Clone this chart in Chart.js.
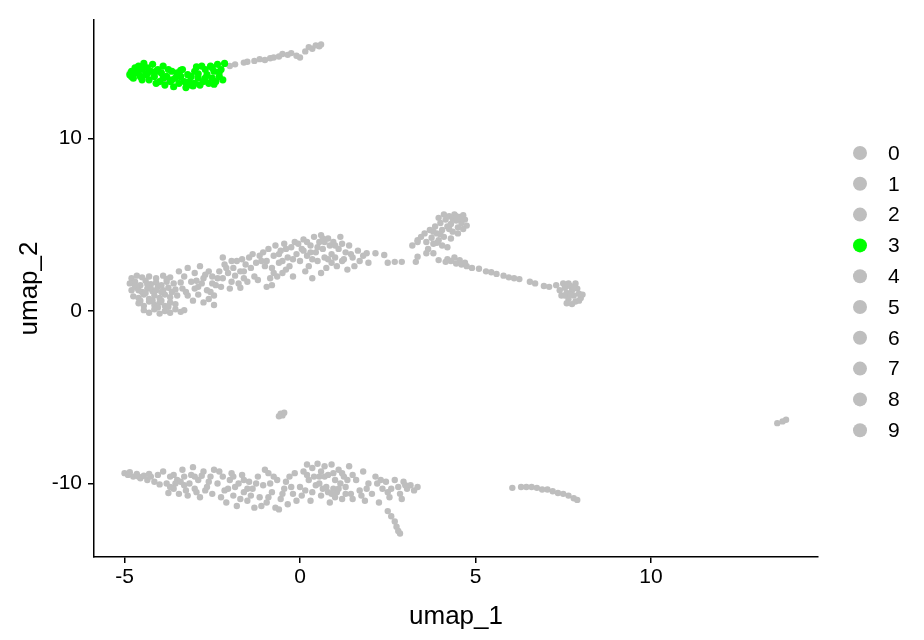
<!DOCTYPE html>
<html><head><meta charset="utf-8">
<script src="https://cdn.jsdelivr.net/npm/chart.js@4"></script>
<style>html,body{margin:0;padding:0;background:#fff}</style>
</head><body>
<canvas id="c" width="924" height="640"></canvas>
<script>
const clusterNames = ['0','1','2','3','4','5','6','7','8','9'];
const clusterColors = ['#BEBEBE','#BEBEBE','#BEBEBE','#00FF00','#BEBEBE','#BEBEBE','#BEBEBE','#BEBEBE','#BEBEBE','#BEBEBE'];
const xTicks = [-5, 0, 5, 10];
const yTicks = [-10, 0, 10];

// cluster 0: middle-left blob
const c0 = [[-4.8,1.9],[-4.65,2.05],[-4.5,1.95],[-4.3,2.0],[-4.1,1.9],[-3.9,2.05],[-3.7,1.95],
[-4.85,1.6],[-4.7,1.7],[-4.55,1.5],[-4.4,1.75],[-4.25,1.55],[-4.1,1.65],[-3.95,1.5],[-3.8,1.7],[-3.6,1.6],
[-4.8,1.2],[-4.65,1.35],[-4.5,1.1],[-4.35,1.3],[-4.2,1.15],[-4.05,1.4],[-3.9,1.2],[-3.75,1.35],[-3.55,1.25],
[-4.75,0.85],[-4.6,0.75],[-4.45,0.95],[-4.3,0.7],[-4.15,0.9],[-4.0,0.75],[-3.85,0.95],[-3.7,0.8],[-3.5,0.9],
[-4.6,0.45],[-4.45,0.3],[-4.3,0.55],[-4.15,0.35],[-4.0,0.5],[-3.85,0.3],[-3.7,0.5],[-3.55,0.4],
[-4.45,0.05],[-4.3,-0.1],[-4.15,0.1],[-4.0,-0.15],[-3.85,0.0],[-3.7,-0.1],[-3.55,0.1],[-3.4,-0.05],[-3.3,0.05],
[-4.7,1.45],[-4.4,1.05],[-4.2,0.6],[-3.95,1.1],[-3.65,1.1],[-4.55,0.6],[-4.05,0.2],[-3.75,0.25],[-4.35,1.55],[-3.8,1.85],
[-4.6,1.2],[-4.25,1.3],[-3.95,0.6],[-4.1,1.2]];
// cluster 1: bottom middle
const c1 = [[-2.35,-10.0],[-2.25,-10.8],[-2.2,-9.6],[-2.1,-11.1],[-2.05,-10.3],[-1.95,-9.4],[-1.9,-10.7],[-1.8,-11.3],[-1.75,-10.0],[-1.65,-9.5],[-1.6,-10.5],[-1.5,-11.0],[-1.45,-9.9],[-1.35,-10.3],[-1.3,-11.4],[-1.2,-9.6],[-1.15,-10.8],[-1.05,-10.1],[-0.95,-11.1],[-0.9,-9.4],[-0.8,-10.5],[-0.7,-11.4],[-0.65,-9.8],[-0.55,-10.9],[-0.45,-10.3],[-0.35,-11.2],[-0.3,-9.6],[-0.2,-10.6],[-0.1,-11.0],[0.0,-10.2],[-1.7,-10.9],[-2.0,-9.8],[-1.0,-9.2],[-0.6,-11.5],
[0.1,-9.3],[0.15,-10.4],[0.2,-8.9],[0.25,-9.8],[0.3,-11.0],[0.35,-9.1],[0.45,-10.1],[0.5,-8.85],[0.55,-9.6],[0.6,-10.7],[0.7,-9.0],[0.75,-10.2],[0.8,-9.5],[0.85,-11.1],[0.9,-8.9],[1.0,-9.8],[1.05,-10.5],[1.1,-9.2],[1.2,-10.9],[1.25,-9.6],[1.3,-10.2],[1.4,-9.0],[1.45,-10.6],[1.5,-9.5],[0.65,-10.3],[0.95,-10.3],[0.4,-9.6],[1.15,-10.0],[0.8,-10.5],[1.0,-10.8],[1.3,-10.6],[1.5,-10.9],[0.9,-10.6],
[-2.3,-9.3],[-1.85,-10.2],[-1.4,-10.7],[-0.85,-10.0],[-0.4,-9.9],[-0.15,-9.4],[0.05,-10.7],[0.55,-10.0],[0.7,-9.6],[1.1,-10.3],[1.35,-9.8],[0.35,-10.5],[-1.1,-11.3],[-2.15,-10.4],
[-1.6,-9.8],[-1.25,-10.0],[-0.75,-9.6],[-0.5,-10.6],[-0.25,-10.2],[0.2,-9.5],[0.6,-9.3],[0.95,-9.4],[1.2,-9.4],[-1.9,-9.6],[-1.5,-10.3],[-0.9,-10.8]];
// cluster 2: middle band
const c2 = [[-3.45,2.3],[-3.3,2.0],[-3.2,2.5],[-3.1,1.7],[-3.0,2.2],[-2.9,1.4],[-2.85,2.6],[-2.75,1.9],[-2.65,1.2],[-2.6,2.3],[-2.5,1.6],[-2.45,0.9],[-3.35,1.3],[-3.2,0.9],[-3.05,0.6],[-2.9,0.95],[-2.75,0.5],[-2.6,0.7],[-2.45,0.35],[-3.4,1.65],[-3.25,1.1],[-2.95,1.75],[-2.55,1.1],[-2.4,1.5],
[-2.3,2.3],[-2.2,1.9],[-2.15,2.7],[-2.05,2.2],[-1.95,1.7],[-1.9,2.5],[-1.8,2.9],[-1.7,2.3],[-1.6,1.9],[-1.55,2.7],[-1.45,3.1],[-1.4,2.5],[-1.3,2.0],[-1.25,2.8],[-1.15,3.2],[-2.25,1.4],[-2.0,1.3],[-1.75,1.6],[-1.85,2.05],[-1.65,3.0],[-2.2,3.1],[-1.7,1.35],[-1.5,1.7],[-0.95,1.4],[-0.8,1.5],
[-1.05,3.4],[-0.95,2.9],[-0.9,3.6],[-0.8,2.5],[-0.75,3.2],[-0.7,3.8],[-0.6,2.8],[-0.55,3.5],[-0.5,2.2],[-0.45,3.9],[-0.35,3.1],[-0.3,2.6],[-0.25,3.7],[-0.15,4.0],[-0.1,3.3],[0.0,2.9],[0.05,3.6],[0.1,4.15],[0.2,3.2],[0.25,2.6],[0.3,3.8],[0.4,4.3],[0.45,3.4],[0.5,2.9],[0.55,4.0],[0.6,4.4],[0.65,3.6],[0.7,3.1],[0.75,2.5],[0.8,4.2],[0.85,3.8],[0.9,3.3],[-0.65,2.0],[-0.4,2.4],[-0.2,2.0],[0.15,2.3],[0.35,1.9],[0.6,2.2],[-0.85,1.9],
[0.95,4.0],[1.0,3.1],[1.05,2.6],[1.1,3.6],[1.15,4.3],[1.2,2.9],[1.3,3.4],[1.35,2.4],[1.4,3.8],[1.5,3.1],[1.55,2.6],[1.65,3.5],[1.7,2.9],[1.8,3.2],
[-3.0,1.3],[-2.7,2.1],[-2.35,1.9],[-1.95,2.9],[-1.35,3.3],[-1.0,2.6],[-0.6,3.3],[-0.2,3.0],[0.1,3.5],[0.35,3.0],[0.5,3.7],[0.7,4.0],[0.9,2.8],[1.2,3.9],[1.45,3.3],[0.2,4.0],[-0.4,3.6],[-0.75,2.2],
[-2.8,1.6],[-2.5,2.0],[-2.1,2.5],[-1.6,2.3],[-1.1,2.9],[-0.5,2.9],[-0.05,3.9],[0.3,3.4],[0.65,4.2],[0.8,3.0],[1.0,3.8],[1.25,3.0],[-1.2,1.8]];
// cluster 3: green top cluster
const c3 = [[-4.85,13.7],[-4.8,13.9],[-4.75,13.5],[-4.7,14.1],[-4.65,13.8],[-4.6,14.2],[-4.55,13.6],[-4.5,14.0],[-4.45,14.35],[-4.4,13.7],[-4.35,14.1],[-4.3,13.4],[-4.25,13.9],[-4.2,14.3],[-4.15,13.6],[-4.1,13.2],[-4.05,14.0],[-4.0,13.3],[-3.95,13.8],[-3.9,14.2],[-3.85,13.1],[-3.8,13.6],[-3.75,14.0],[-3.7,13.3],[-3.65,13.9],[-3.6,13.0],[-3.55,13.5],[-3.5,13.8],[-3.45,13.2],[-3.4,13.6],[-3.35,14.0],[-3.3,13.3],[-3.25,12.95],[-3.2,13.7],[-3.15,13.3],[-3.1,13.6],[-3.05,13.05],
[-3.0,13.9],[-2.95,14.15],[-2.9,13.5],[-2.85,13.1],[-2.8,14.2],[-2.75,13.3],[-2.7,14.0],[-2.65,13.7],[-2.6,13.2],[-2.55,14.2],[-2.5,13.5],[-2.45,13.9],[-2.4,13.3],[-2.35,14.3],[-2.3,13.6],[-2.25,14.0],[-2.2,13.4],[-2.15,14.35],
[-4.8,13.6],[-4.6,13.95],[-4.35,13.75],[-4.1,13.9],[-3.9,13.5],[-3.65,13.4],[-3.4,13.95],[-3.2,13.1],[-2.9,13.75],[-2.7,13.5],[-2.5,14.1],[-2.3,13.85],[-2.45,13.15],[-4.5,13.4],[-3.0,13.2]];
// cluster 4: bottom right part and tail
const c4 = [[1.6,-9.8],[1.7,-10.4],[1.8,-9.3],[1.85,-11.0],[1.95,-10.0],[2.05,-10.6],[2.15,-9.6],[2.25,-11.1],[2.35,-10.3],[2.45,-9.9],[2.55,-10.8],[2.6,-10.3],[2.7,-9.8],[2.8,-10.2],[2.85,-10.6],[2.95,-9.9],[3.05,-10.3],[3.15,-10.1],[3.25,-10.4],[3.35,-10.2],[2.9,-10.9],
[2.5,-11.6],[2.6,-11.9],[2.7,-12.2],[2.75,-12.5],[2.8,-12.75],[2.85,-12.9],
[1.9,-10.3],[2.2,-10.0],[2.5,-10.5],[3.0,-10.1],[2.3,-9.8],[1.75,-10.7]];
// cluster 5: grey tail next to cluster 3
const c5 = [[-4.85,13.8],[-4.0,13.3],[-3.85,13.4],
[-2.0,14.2],[-1.85,14.3],[-1.6,14.4],[-1.5,14.45],[-1.3,14.5],[-1.15,14.6],[-1.0,14.55],[-0.85,14.65],[-0.75,14.7],[-0.6,14.75],[-0.5,14.9],[-0.35,14.85],[-0.25,14.95],[-0.1,14.8],[0.0,14.7],[0.15,15.05],[0.25,15.3],[0.35,15.2],[0.45,15.4],[0.55,15.35],[0.6,15.45]];
// cluster 6: hump
const c6 = [[1.9,3.35],[2.15,3.35],[2.4,3.25],[2.5,2.8],[2.7,2.85],[2.9,2.85],[1.95,2.8],[3.2,3.8],[3.35,4.0],[3.3,2.85],[3.35,3.15],[3.6,3.35],[3.8,3.35],[3.95,2.95],[4.15,2.85],
[3.35,4.1],[3.45,4.3],[3.55,4.5],[3.6,4.0],[3.7,4.7],[3.75,4.25],[3.8,3.9],[3.85,4.9],[3.9,4.5],[3.95,4.1],[4.0,5.1],[4.05,4.7],[4.1,4.3],[4.15,5.3],[4.2,4.9],[4.25,5.5],[4.3,5.05],[4.35,4.6],[4.4,5.6],[4.45,5.25],[4.5,4.85],[4.55,5.45],[4.6,5.1],[4.65,5.55],[4.7,5.3],[4.75,4.95],[4.5,4.5],[4.3,4.2],[4.05,3.8],[3.65,3.6],[4.1,5.6],[3.95,5.4],[4.2,3.7],[3.9,3.95],
[4.35,5.35],[4.6,5.35],[4.45,5.5],[4.25,4.75],[4.0,4.45],[3.8,4.6],[4.65,4.75]];
// cluster 7: bottom left
const c7 = [[-5.0,-9.4],[-4.9,-9.5],[-4.85,-9.35],[-4.75,-9.6],[-4.65,-9.45],[-4.55,-9.7],[-4.45,-9.55],[-4.35,-9.8],[-4.25,-9.6],[-4.15,-9.9],[-4.05,-9.5],[-4.0,-10.05],
[-3.9,-9.3],[-3.8,-10.0],[-3.7,-9.6],[-3.6,-10.3],[-3.5,-9.8],[-3.45,-10.6],[-3.35,-9.2],[-3.3,-10.1],[-3.2,-10.7],[-3.1,-9.5],[-3.05,-9.05],[-3.0,-10.3],[-2.9,-9.8],[-2.85,-10.8],[-2.75,-9.3],[-2.7,-10.4],[-2.6,-9.9],[-2.5,-10.6],[-2.45,-9.2],[-3.75,-10.55],[-3.4,-9.9],[-3.15,-10.0],[-2.8,-9.55],
[-4.6,-9.6],[-4.3,-9.45],[-3.55,-10.0],[-3.25,-10.4],[-2.95,-10.5],[-2.65,-10.2],[-3.6,-9.5],
[-3.7,-10.2],[-3.3,-9.6],[-3.0,-9.6],[-2.55,-9.6]];
// cluster 8: right tail of middle group
const c8 = [[4.3,2.9],[4.45,2.75],[4.6,2.7],[4.75,2.6],[4.9,2.5],[5.1,2.45],[5.3,2.3],[5.45,2.25],[5.6,2.15],[5.8,2.05],[5.95,1.95],[6.1,1.9],[6.25,1.85],[6.55,1.7],[6.7,1.6],[6.95,1.45],[7.1,1.4],[4.4,3.1],[4.55,2.95],[4.7,2.8],[4.2,3.0],
[7.3,1.5],[7.4,1.2],[7.45,0.9],[7.5,1.6],[7.55,1.35],[7.6,1.05],[7.65,0.7],[7.7,1.45],[7.75,1.2],[7.8,0.9],[7.85,0.55],[7.9,1.3],[7.95,1.0],[8.0,0.75],[7.6,0.45],[7.75,0.4],[7.85,1.6],[8.05,0.95],
[7.55,0.9],[7.7,0.95],[7.8,1.35],[7.65,1.6],[7.95,0.6]];
// cluster 9: small islands
const c9 = [[-0.6,-6.1],[-0.55,-5.95],[-0.5,-6.05],[-0.45,-5.9],
[6.05,-10.25],[6.3,-10.2],[6.45,-10.2],[6.6,-10.2],[6.75,-10.25],[6.9,-10.35],[7.05,-10.35],[7.2,-10.45],[7.35,-10.55],[7.5,-10.6],[7.65,-10.7],[7.8,-10.85],[7.9,-10.95],
[13.6,-6.5],[13.75,-6.4],[13.85,-6.3]];

const clusters = [c0,c1,c2,c3,c4,c5,c6,c7,c8,c9];

const datasets = clusters.map((pts, i) => ({
  label: clusterNames[i],
  data: pts.map(p => ({x: p[0], y: p[1]})),
  backgroundColor: clusterColors[i],
  borderColor: clusterColors[i],
  borderWidth: 0,
  pointRadius: i === 3 ? 3.6 : 3.2,
  pointHoverRadius: 3.2,
  order: i === 3 ? -1 : i
}));

const FONT = '"Liberation Sans", Arial, sans-serif';

const legendPlugin = {
  id: 'sideLegend',
  afterDraw(chart) {
    const ctx = chart.ctx;
    ctx.save();
    ctx.font = '21px ' + FONT;
    ctx.textBaseline = 'middle';
    ctx.textAlign = 'left';
    chart.data.datasets.forEach((ds, i) => {
      const y = 153 + i * 30.8;
      ctx.fillStyle = ds.backgroundColor;
      ctx.beginPath();
      ctx.arc(860, y, 7, 0, Math.PI * 2);
      ctx.fill();
      ctx.fillStyle = '#000';
      ctx.fillText(ds.label, 888, y + 1);
    });
    ctx.restore();
  }
};

new Chart(document.getElementById('c'), {
  type: 'scatter',
  data: { datasets },
  options: {
    responsive: false,
    animation: false,
    layout: { padding: { top: 20, right: 106, left: 0, bottom: 0 } },
    plugins: { legend: { display: false }, tooltip: { enabled: false } },
    scales: {
      x: {
        type: 'linear', min: -5.87, max: 14.76,
        afterBuildTicks: s => { s.ticks = xTicks.map(v => ({value: v})); },
        afterFit: s => { s.height = 83; },
        grid: { display: true, drawOnChartArea: false, drawTicks: true, tickLength: 6, color: '#000', lineWidth: 1.5 },
        border: { display: true, color: '#000', width: 1.5 },
        ticks: { color: '#000', font: { size: 21, family: FONT }, padding: 2, maxRotation: 0 },
        title: { display: true, text: 'umap_1', color: '#000', font: { size: 26, family: FONT }, padding: { top: 0, bottom: 8 } }
      },
      y: {
        type: 'linear', min: -14.26, max: 16.87,
        afterBuildTicks: s => { s.ticks = yTicks.map(v => ({value: v})); },
        afterFit: s => { s.width = 94; },
        grid: { display: true, drawOnChartArea: false, drawTicks: true, tickLength: 6, color: '#000', lineWidth: 1.5 },
        border: { display: true, color: '#000', width: 1.5 },
        ticks: { color: '#000', font: { size: 21, family: FONT }, padding: 6 },
        title: { display: true, text: 'umap_2', color: '#000', font: { size: 26, family: FONT }, padding: { top: 14, bottom: 0 } }
      }
    }
  },
  plugins: [legendPlugin]
});
</script>
</body></html>
